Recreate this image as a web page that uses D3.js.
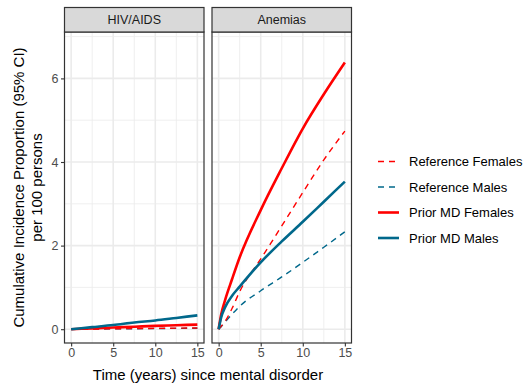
<!DOCTYPE html>
<html><head><meta charset="utf-8">
<script src="https://cdn.jsdelivr.net/npm/d3@7"></script>
<style>body{margin:0;background:#fff}svg{display:block}text{font-family:"Liberation Sans",Arial,sans-serif}</style>
</head><body>
<script>
// ---- data ----
const panels = ["HIV/AIDS", "Anemias"];
const seriesNames = ["Reference Females", "Reference Males", "Prior MD Females", "Prior MD Males"];
const xTicks = [0, 5, 10, 15];
const yTicks = [0, 2, 4, 6];
// time points (years)
const hivTime = [0, 2.5, 5, 7.5, 10, 12.5, 15];
const hivRefF = [0, 0.005, 0.01, 0.015, 0.02, 0.025, 0.03];
const hivRefM = [0, 0.004, 0.008, 0.012, 0.016, 0.02, 0.024];
const hivPmdF = [0, 0.02, 0.04, 0.06, 0.08, 0.095, 0.11];
const hivPmdM = [0, 0.05, 0.1, 0.16, 0.21, 0.27, 0.33];
const anTime = [0, 0.3, 0.8, 1.6, 2.5, 5, 7.5, 10, 12.5, 15];
const anRefF = [0, 0.07, 0.2, 0.5, 0.9, 1.68, 2.47, 3.27, 4.05, 4.74];
const anRefM = [0, 0.06, 0.18, 0.36, 0.55, 0.92, 1.25, 1.6, 1.96, 2.33];
const anPmdF = [0, 0.35, 0.72, 1.2, 1.72, 2.85, 3.85, 4.8, 5.62, 6.38];
const anPmdM = [0, 0.28, 0.54, 0.8, 1.02, 1.6, 2.1, 2.57, 3.05, 3.53];

const colors = {"Reference Females":"#FF0000","Reference Males":"#00688B","Prior MD Females":"#FF0000","Prior MD Males":"#00688B"};
const dashed = {"Reference Females":true,"Reference Males":true,"Prior MD Females":false,"Prior MD Males":false};

const panelData = {
  "HIV/AIDS": {time: hivTime, series: {"Reference Females":hivRefF,"Reference Males":hivRefM,"Prior MD Females":hivPmdF,"Prior MD Males":hivPmdM}},
  "Anemias": {time: anTime, series: {"Reference Females":anRefF,"Reference Males":anRefM,"Prior MD Females":anPmdF,"Prior MD Males":anPmdM}}
};

const W = 525, H = 385;
const svg = d3.select("body").append("svg").attr("width", W).attr("height", H);

const pTop = 32, pBottom = 343, stripTop = 7.5;
const panelLeft = [64.5, 212];
const panelW = 139.5;
const y = d3.scaleLinear().domain([-0.33, 7.11]).range([pBottom, pTop]);

const drawOrder = ["Reference Males","Reference Females","Prior MD Females","Prior MD Males"];

panels.forEach((p, i) => {
  const x0 = panelLeft[i];
  const x = d3.scaleLinear().domain([-0.79, 15.79]).range([x0, x0 + panelW]);
  const g = svg.append("g");
  g.append("rect").attr("x", x0).attr("y", pTop).attr("width", panelW).attr("height", pBottom - pTop).attr("fill", "#fff");
  [2.5, 7.5, 12.5].forEach(v => g.append("line").attr("x1", x(v)).attr("x2", x(v)).attr("y1", pTop).attr("y2", pBottom).attr("stroke", "#EBEBEB").attr("stroke-width", 0.8));
  [1, 3, 5, 7].forEach(v => g.append("line").attr("x1", x0).attr("x2", x0 + panelW).attr("y1", y(v)).attr("y2", y(v)).attr("stroke", "#EBEBEB").attr("stroke-width", 0.8));
  xTicks.forEach(v => g.append("line").attr("x1", x(v)).attr("x2", x(v)).attr("y1", pTop).attr("y2", pBottom).attr("stroke", "#EBEBEB").attr("stroke-width", 1.6));
  yTicks.forEach(v => g.append("line").attr("x1", x0).attr("x2", x0 + panelW).attr("y1", y(v)).attr("y2", y(v)).attr("stroke", "#EBEBEB").attr("stroke-width", 1.6));

  const d = panelData[p];
  drawOrder.forEach(s => {
    const vals = d.series[s];
    const line = d3.line().x(t => x(t)).y((t, k) => y(vals[k])).curve(d3.curveMonotoneX);
    g.append("path").attr("d", line(d.time)).attr("fill", "none")
      .attr("stroke", colors[s]).attr("stroke-width", dashed[s] ? 1.4 : 2.6)
      .attr("stroke-dasharray", dashed[s] ? "6,5" : null);
  });

  g.append("rect").attr("x", x0).attr("y", pTop).attr("width", panelW).attr("height", pBottom - pTop).attr("fill", "none").attr("stroke", "#333333").attr("stroke-width", 1.2);
  g.append("rect").attr("x", x0).attr("y", stripTop).attr("width", panelW).attr("height", pTop - stripTop).attr("fill", "#D9D9D9").attr("stroke", "#333333").attr("stroke-width", 1.2);
  g.append("text").attr("x", x0 + panelW / 2).attr("y", stripTop + (pTop - stripTop) / 2 + 4.5).attr("text-anchor", "middle").attr("font-size", 12.5).attr("fill", "#1A1A1A").text(p);

  const xa = svg.append("g").attr("transform", `translate(0,${pBottom})`)
    .call(d3.axisBottom(x).tickValues(xTicks).tickSize(3.5).tickPadding(2));
  xa.select(".domain").remove();
  xa.selectAll(".tick line").attr("stroke", "#333333").attr("stroke-width", 1.1);
  xa.selectAll(".tick text").attr("font-size", 12.5).attr("fill", "#4D4D4D").attr("font-family", "Liberation Sans, Arial, sans-serif");

  if (i === 0) {
    const ya = svg.append("g").attr("transform", `translate(${x0},0)`)
      .call(d3.axisLeft(y).tickValues(yTicks).tickSize(3.5).tickPadding(2.5));
    ya.select(".domain").remove();
    ya.selectAll(".tick line").attr("stroke", "#333333").attr("stroke-width", 1.1);
    ya.selectAll(".tick text").attr("font-size", 12.5).attr("fill", "#4D4D4D").attr("font-family", "Liberation Sans, Arial, sans-serif");
  }
});

svg.append("text").attr("x", (panelLeft[0] + panelLeft[1] + panelW) / 2).attr("y", 380).attr("text-anchor", "middle").attr("font-size", 15).attr("fill", "#000").text("Time (years) since mental disorder");
const yt = svg.append("text").attr("transform", `translate(0,${(pTop + pBottom) / 2}) rotate(-90)`).attr("text-anchor", "middle").attr("font-size", 15).attr("fill", "#000");
yt.append("tspan").attr("x", 0).attr("y", 24).text("Cumulative Incidence Proportion (95% CI)");
yt.append("tspan").attr("x", 0).attr("y", 42).text("per 100 persons");

const lg = svg.append("g");
seriesNames.forEach((s, k) => {
  const yy = 161.5 + k * 25.5;
  lg.append("line").attr("x1", 378).attr("x2", 399).attr("y1", yy).attr("y2", yy)
    .attr("stroke", colors[s]).attr("stroke-width", dashed[s] ? 1.4 : 2.6)
    .attr("stroke-dasharray", dashed[s] ? "6,5" : null);
  lg.append("text").attr("x", 409).attr("y", yy + 4.5).attr("font-size", 13).attr("fill", "#000").text(s);
});
</script>
</body></html>
